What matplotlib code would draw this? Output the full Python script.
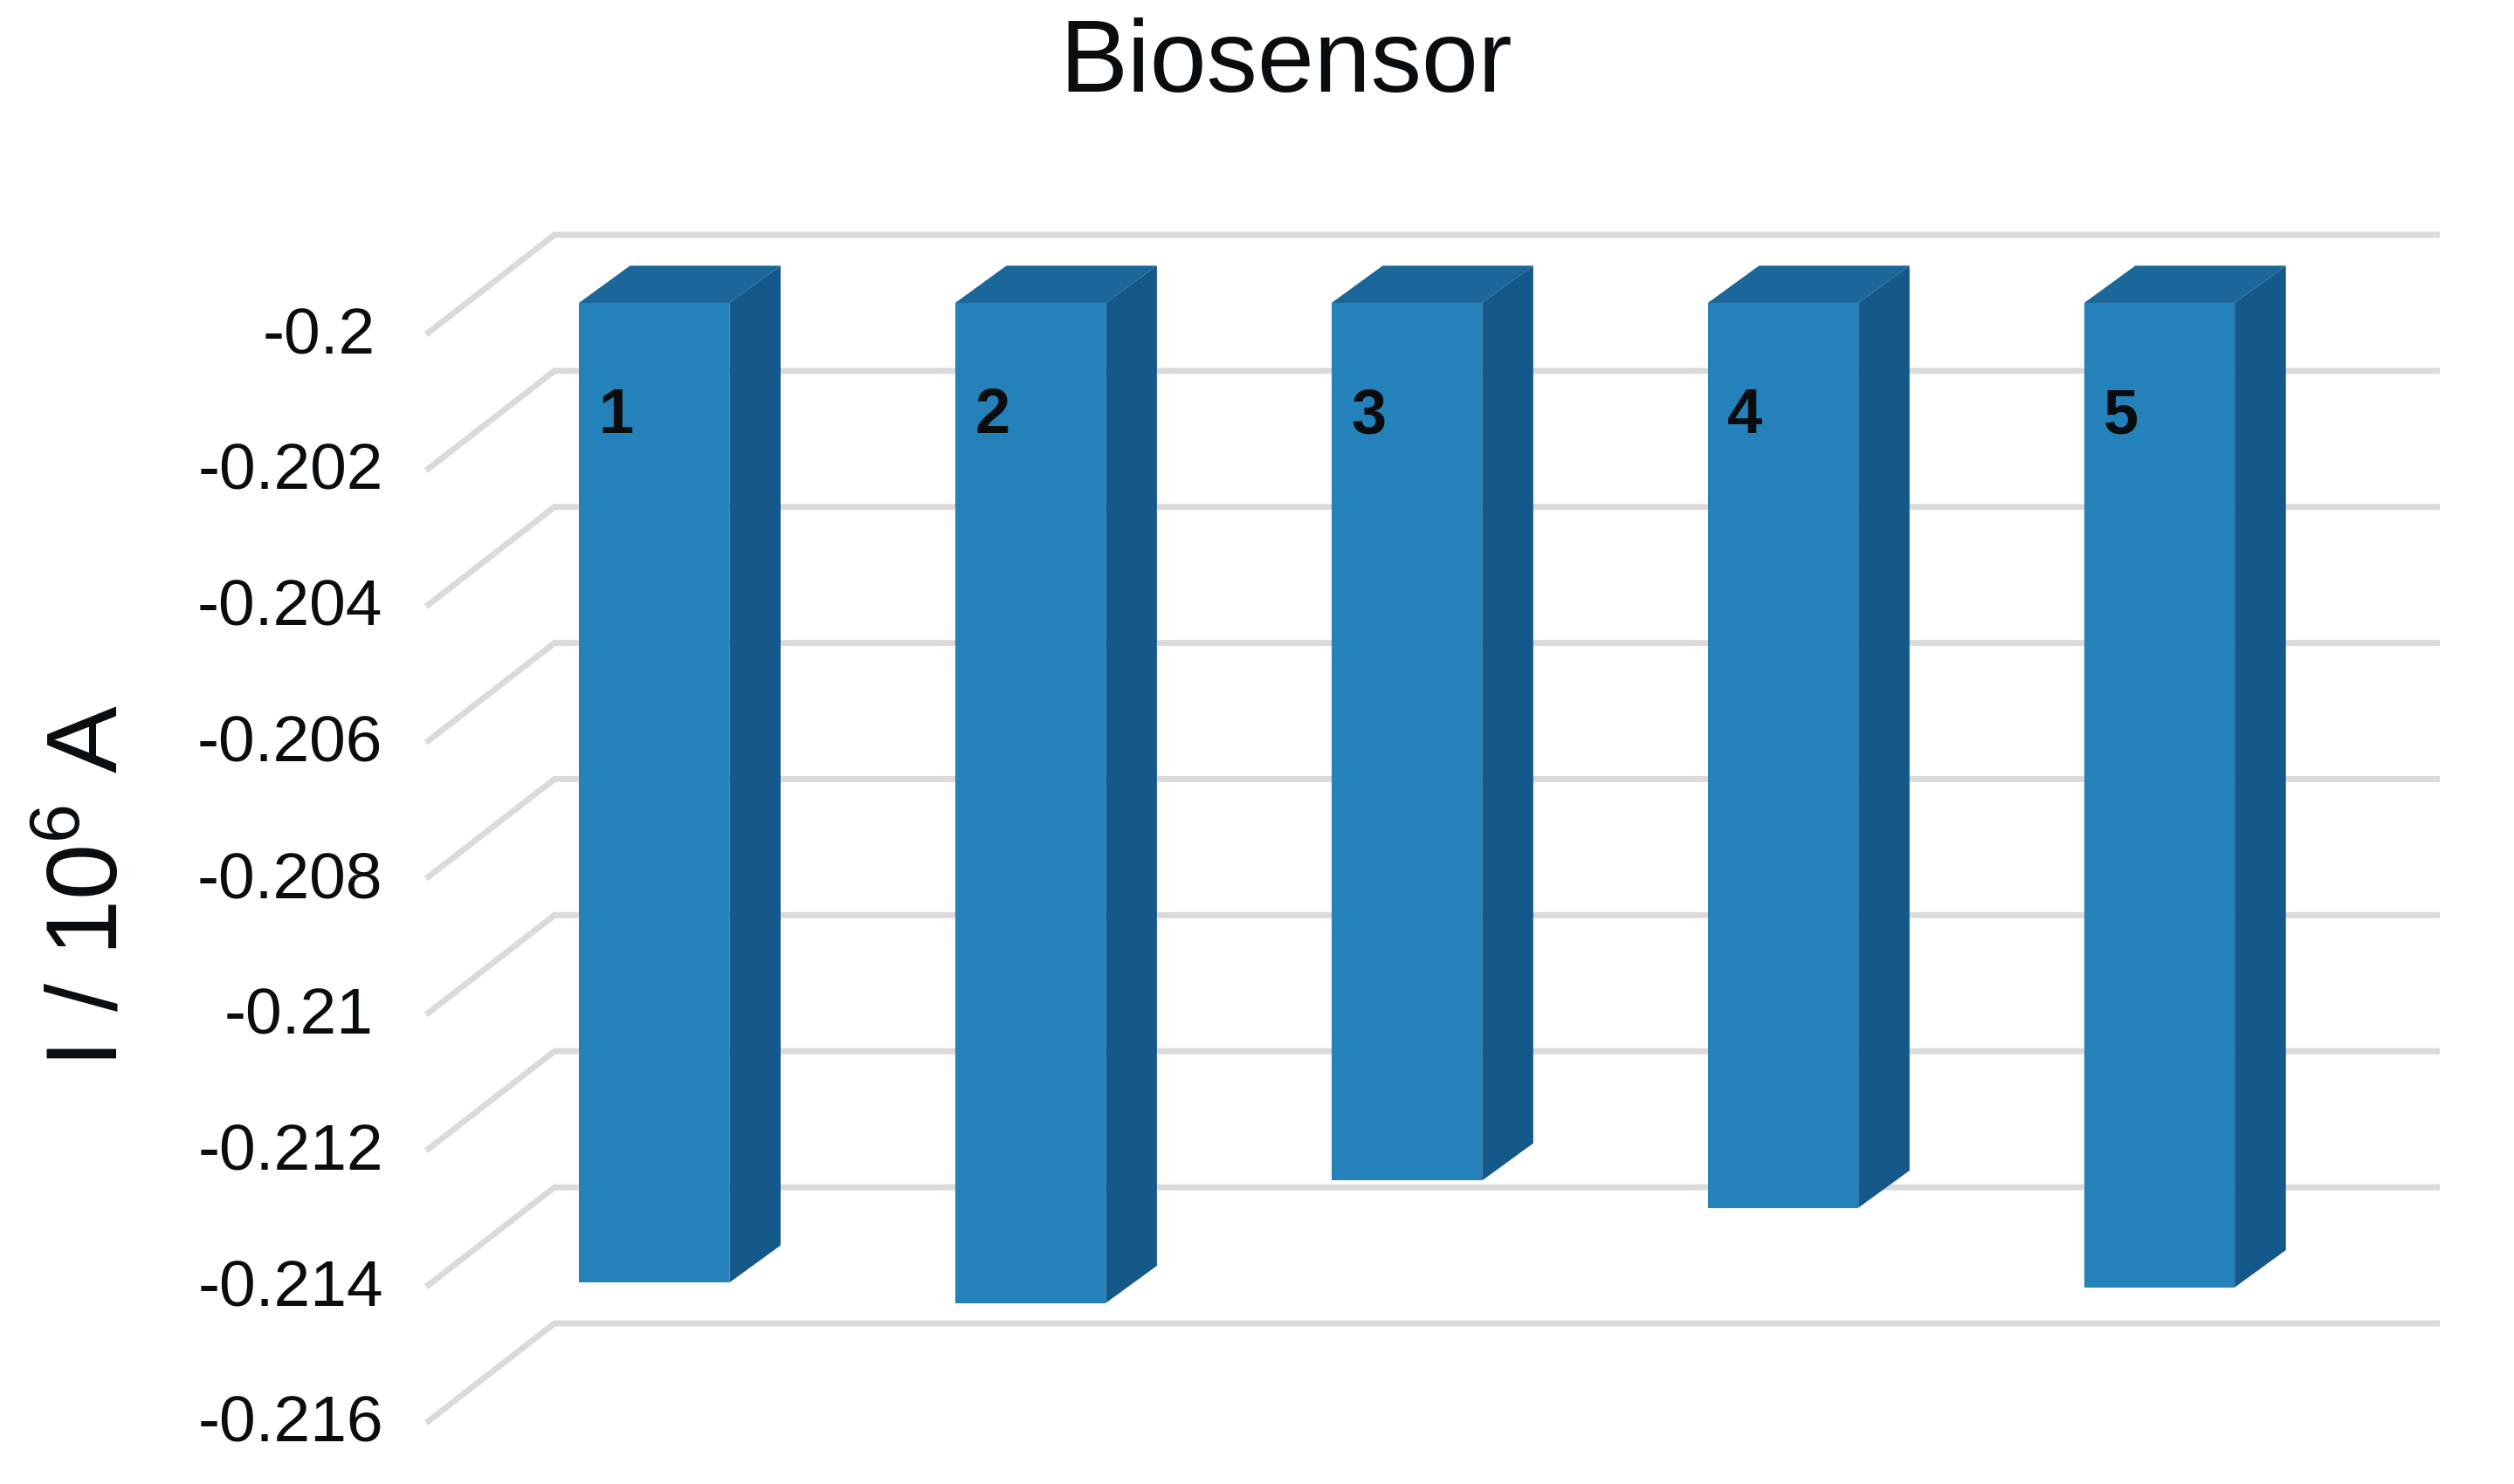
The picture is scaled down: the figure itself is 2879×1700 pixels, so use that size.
import matplotlib
matplotlib.use('Agg')
from matplotlib import pyplot as plt
from matplotlib.transforms import ScaledTranslation

plt.rcParams['font.family'] = ['Liberation Sans', 'DejaVu Sans']
plt.rcParams['mathtext.default'] = 'regular'

categories = [1, 2, 3, 4, 5]
current = [-0.2144, -0.2147, -0.2129, -0.2133, -0.21447]
bar_start = -0.2
grid_values = [-0.2, -0.202, -0.204, -0.206, -0.208, -0.21, -0.212, -0.214, -0.216]
grid_labels = ['-0.2', '-0.202', '-0.204', '-0.206', '-0.208', '-0.21', '-0.212', '-0.214', '-0.216']
label_gap = [58, 49, 50, 50, 50, 60, 49, 49, 49]  # px between label and axes

W, H = 2879, 1700
FRONT = '#2481ba'
TOP = '#1b6799'
SIDE = '#14598a'
GRID = '#d9dadb'
INK = '#0a0d10'

# fake 3d: depth 0 is the front plane of the floor, depth 1 the back wall
depth_x = 0.341
depth_y = 0.001463
bar_depth = 0.316
bar_back = 0.69
bar_w = 0.4

fig = plt.figure(figsize=(W / 100, H / 100), dpi=100)
ax = fig.add_axes([488 / W, 1 - 1630 / H, (2794 - 488) / W, (1630 - 269) / H])
ax.set_xlim(0.394, 5.745)
ax.set_ylim(-0.216, -0.216 + 0.016 + depth_y)

for v in grid_values:
    x0 = ax.get_xlim()[0]
    ax.plot([x0, x0 + depth_x, ax.get_xlim()[1]], [v, v + depth_y, v + depth_y],
            color=GRID, lw=5, clip_on=False, zorder=1,
            solid_joinstyle='miter', solid_capstyle='butt')

shift = bar_depth * depth_y
dx = 0.136
dy = (bar_back - bar_depth) * depth_y

for c, v in zip(categories, current):
    left = c - bar_w / 2
    right = c + bar_w / 2
    top = bar_start + shift
    bottom = v + shift
    ax.bar(c, top - bottom, bottom=bottom, width=bar_w, color=FRONT, lw=0, zorder=3)
    ax.fill([left, right, right + dx, left + dx], [top, top, top + dy, top + dy],
            color=TOP, lw=0, zorder=3)
    ax.fill([right, right + dx, right + dx, right],
            [top, top + dy, bottom + dy, bottom], color=SIDE, lw=0, zorder=3)
    ax.text(c - 0.102, -0.20121, str(c), fontsize=52, fontweight='bold',
            ha='center', va='center', color=INK, zorder=4)

ax.set_xticks([])
ax.set_yticks(grid_values, grid_labels, fontsize=54, color=INK)
ax.tick_params(axis='y', length=0)
nudge = ScaledTranslation(0, 5 / 100, fig.dpi_scale_trans)
for tick, gap in zip(ax.yaxis.get_major_ticks(), label_gap):
    tick.set_pad(gap * 0.72)
for lab in ax.get_yticklabels():
    lab.set_transform(lab.get_transform() + nudge)
for s in ax.spines.values():
    s.set_visible(False)
ax.patch.set_visible(False)

fig.text(1473 / W, 1 - 75 / H, 'Biosensor', fontsize=84, color=INK, ha='center', va='center')
fig.text(105 / W, 1 - 1015 / H, 'I / 10$^{6}$ A', fontsize=83, color=INK, rotation=90,
         ha='center', va='center')

fig.savefig('out.png', dpi=100, facecolor='white')
